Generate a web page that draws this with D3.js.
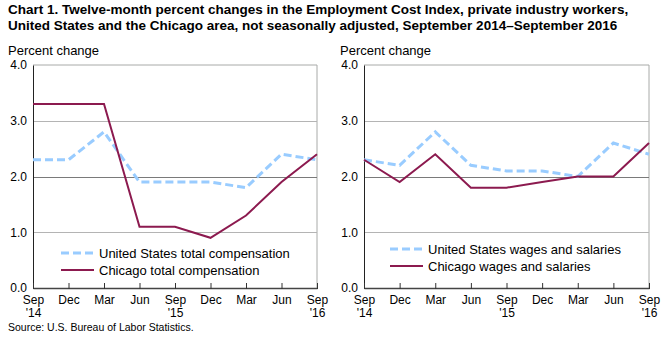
<!DOCTYPE html>
<html>
<head>
<meta charset="utf-8">
<script src="https://cdn.jsdelivr.net/npm/d3@7"></script>
<style>
  body { margin: 0; background: #fff; }
  svg { display: block; font-family: "Liberation Sans", Arial, sans-serif; }
</style>
</head>
<body>
<div id="chart"></div>
<script>
// quarters on the x axis
const quarters = ['Sep', 'Dec', 'Mar', 'Jun', 'Sep', 'Dec', 'Mar', 'Jun', 'Sep'];
const yearLabels = {0: "'14", 4: "'15", 8: "'16"};
const yTicks = [0, 1, 2, 3, 4];

// total compensation, twelve-month percent change
const usTotalComp = [2.3, 2.3, 2.8, 1.9, 1.9, 1.9, 1.8, 2.4, 2.3];
const chicagoTotalComp = [3.3, 3.3, 3.3, 1.1, 1.1, 0.9, 1.3, 1.9, 2.4];

// wages and salaries, twelve-month percent change
const usWages = [2.3, 2.2, 2.8, 2.2, 2.1, 2.1, 2.0, 2.6, 2.4];
const chicagoWages = [2.3, 1.9, 2.4, 1.8, 1.8, 1.9, 2.0, 2.0, 2.6];

const width = 670;
const height = 341;
const blue = '#99ccff';
const maroon = '#8c1a4f';

const svg = d3.select('#chart').append('svg')
  .attr('width', width)
  .attr('height', height);

// title
const title = svg.append('text')
  .attr('x', 8)
  .attr('font-weight', 'bold')
  .attr('font-size', 13.5)
  .attr('fill', '#000');
title.append('tspan').attr('x', 8).attr('y', 14)
  .text('Chart 1. Twelve-month percent changes in the Employment Cost Index, private industry workers,');
title.append('tspan').attr('x', 8).attr('y', 30)
  .text('United States and the Chicago area, not seasonally adjusted, September 2014\u2013September 2016');

svg.append('text')
  .attr('x', 8)
  .attr('y', 331)
  .attr('font-size', 10.5)
  .text('Source: U.S. Bureau of Labor Statistics.');

function panel(opts) {
  const g = svg.append('g');
  const x = d3.scaleLinear().domain([0, quarters.length - 1]).range([opts.left, opts.right]);
  const y = d3.scaleLinear().domain([0, 4]).range([288, 65]);

  g.append('text')
    .attr('x', opts.labelX)
    .attr('y', 55)
    .attr('font-size', 13)
    .text('Percent change');

  // frame on top and right
  g.append('path')
    .attr('d', `M${opts.left},${y(4)}H${opts.right}V${y(0)}`)
    .attr('fill', 'none')
    .attr('stroke', '#a8aaa8')
    .attr('stroke-width', 1);

  // gridlines
  g.selectAll('.grid')
    .data([1, 2, 3])
    .join('line')
    .attr('x1', opts.left)
    .attr('x2', opts.right)
    .attr('y1', d => Math.round(y(d)) + 0.5)
    .attr('y2', d => Math.round(y(d)) + 0.5)
    .attr('stroke', d => d === 2 ? '#7a7a7a' : '#b4b4b4')
    .attr('stroke-width', 1);

  // y axis
  const yAxis = d3.axisLeft(y)
    .tickValues(yTicks)
    .tickFormat(d3.format('.1f'))
    .tickSize(0)
    .tickPadding(6);
  g.append('g')
    .attr('transform', `translate(${opts.left},0)`)
    .call(yAxis)
    .call(a => a.select('.domain').attr('stroke', '#222'))
    .call(a => a.selectAll('text').attr('font-size', 12).attr('fill', '#000')
      .attr('font-family', '"Liberation Sans", Arial, sans-serif'));

  // x axis
  const xAxis = d3.axisBottom(x)
    .tickValues(d3.range(quarters.length))
    .tickFormat(() => '')
    .tickSizeInner(-5)
    .tickSizeOuter(0);
  const xa = g.append('g')
    .attr('transform', `translate(0,${y(0)})`)
    .call(xAxis);
  xa.select('.domain').attr('stroke', '#444').attr('stroke-width', 1.5);
  xa.selectAll('.tick line').attr('stroke', '#333').attr('y2', -5).attr('y1', 1);

  xa.selectAll('.tick').each(function (d) {
    const t = d3.select(this).append('text')
      .attr('fill', '#000')
      .attr('font-size', 12)
      .attr('text-anchor', 'middle')
      .attr('font-family', '"Liberation Sans", Arial, sans-serif');
    t.append('tspan').attr('x', 0).attr('y', 16).text(quarters[d]);
    if (yearLabels[d]) t.append('tspan').attr('x', 0).attr('y', 29).text(yearLabels[d]);
  });

  const line = d3.line().x((d, i) => x(i)).y(d => y(d));

  g.append('path')
    .datum(opts.us)
    .attr('d', line)
    .attr('fill', 'none')
    .attr('stroke', blue)
    .attr('stroke-width', 3)
    .attr('stroke-dasharray', '8,4');

  g.append('path')
    .datum(opts.chicago)
    .attr('d', line)
    .attr('fill', 'none')
    .attr('stroke', maroon)
    .attr('stroke-width', 2);

  // legend
  const legend = g.append('g');
  const items = [
    {label: opts.usLabel, color: blue, dash: '8,4', w: 3},
    {label: opts.chicagoLabel, color: maroon, dash: null, w: 2}
  ];
  items.forEach((it, i) => {
    const ly = opts.legendY + i * 17;
    legend.append('line')
      .attr('x1', opts.legendX)
      .attr('x2', opts.legendX + 33)
      .attr('y1', ly)
      .attr('y2', ly)
      .attr('stroke', it.color)
      .attr('stroke-width', it.w)
      .attr('stroke-dasharray', it.dash);
    legend.append('text')
      .attr('x', opts.legendX + 38)
      .attr('y', ly + 5)
      .attr('font-size', 13)
      .text(it.label);
  });
}

panel({
  left: 33, right: 317, labelX: 8,
  us: usTotalComp, chicago: chicagoTotalComp,
  usLabel: 'United States total compensation',
  chicagoLabel: 'Chicago total compensation',
  legendX: 61, legendY: 253
});

panel({
  left: 364, right: 649, labelX: 340,
  us: usWages, chicago: chicagoWages,
  usLabel: 'United States wages and salaries',
  chicagoLabel: 'Chicago wages and salaries',
  legendX: 390, legendY: 249
});
</script>
</body>
</html>
